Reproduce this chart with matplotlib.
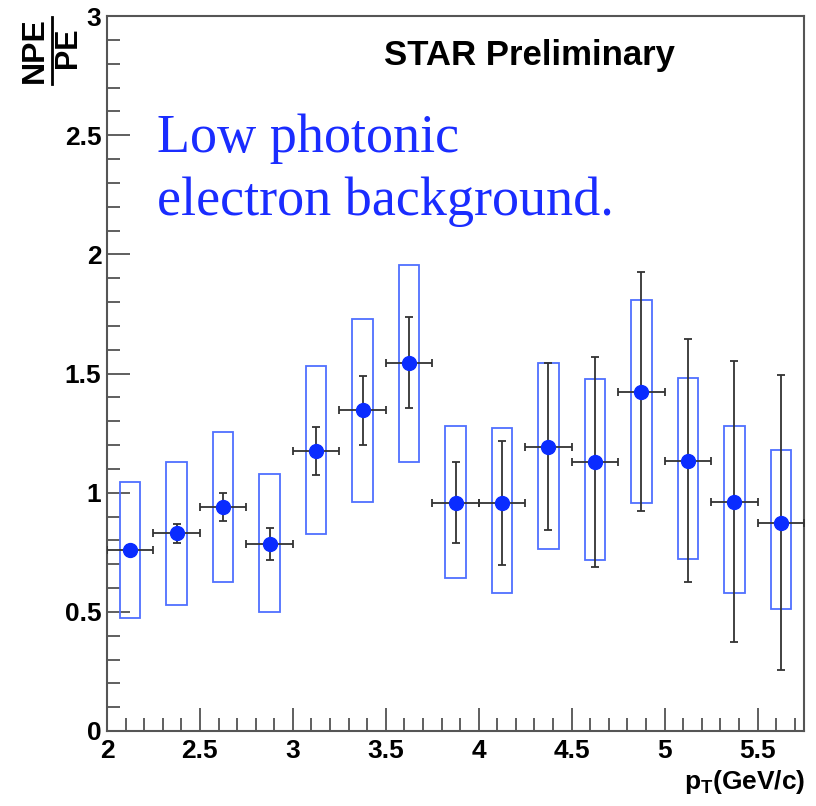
import matplotlib
matplotlib.use("Agg")
import matplotlib.pyplot as plt
from matplotlib.patches import Rectangle
from matplotlib.ticker import MultipleLocator

plt.rcParams['mathtext.fontset'] = 'custom'
plt.rcParams['mathtext.rm'] = 'Liberation Sans:bold'
plt.rcParams['mathtext.bf'] = 'Liberation Sans:bold'
plt.rcParams['mathtext.default'] = 'rm'

# ---- data ----
pt = [2.125, 2.375, 2.625, 2.875, 3.125, 3.375, 3.625, 3.875,
      4.125, 4.375, 4.625, 4.875, 5.125, 5.375, 5.625]
ratio = [0.76, 0.83, 0.94, 0.786, 1.176, 1.345, 1.546, 0.958,
         0.958, 1.193, 1.13, 1.424, 1.134, 0.962, 0.874]
stat_err = [0.02, 0.04, 0.06, 0.067, 0.10, 0.143, 0.19, 0.17,
            0.26, 0.35, 0.44, 0.50, 0.51, 0.59, 0.62]
sys_low = [0.475, 0.53, 0.626, 0.50, 0.828, 0.962, 1.13, 0.64,
           0.58, 0.765, 0.718, 0.958, 0.723, 0.58, 0.513]
sys_high = [1.046, 1.13, 1.256, 1.08, 1.53, 1.727, 1.954, 1.28,
            1.273, 1.542, 1.475, 1.81, 1.483, 1.28, 1.18]
xtick_vals = [2, 2.5, 3, 3.5, 4, 4.5, 5, 5.5]
xtick_labels = ['2', '2.5', '3', '3.5', '4', '4.5', '5', '5.5']
ytick_vals = [0, 0.5, 1, 1.5, 2, 2.5, 3]
ytick_labels = ['0', '0.5', '1', '1.5', '2', '2.5', '3']
pt_halfwidth = 0.125
box_halfwidth = 0.055

W, H = 816, 806
fig = plt.figure(figsize=(W / 100, H / 100), dpi=100)
ax = fig.add_axes([107 / W, 1 - 731 / H, (804 - 107) / W, (731 - 16) / H])

# systematic boxes
for x, lo, hi in zip(pt, sys_low, sys_high):
    ax.add_patch(Rectangle((x - box_halfwidth, lo), 2 * box_halfwidth, hi - lo,
                           fill=False, edgecolor='#4f6fff', linewidth=1.3, zorder=2))

ax.errorbar(pt, ratio, xerr=pt_halfwidth, yerr=stat_err, fmt='none',
            ecolor='#333333', elinewidth=1.3, capsize=3, capthick=1.3, zorder=3)
ax.plot(pt, ratio, 'o', color='#0a2cff', markersize=10, zorder=4)

ax.set_xlim(2, 5.75)
ax.set_ylim(0, 3)
ax.xaxis.set_minor_locator(MultipleLocator(0.1))
ax.yaxis.set_minor_locator(MultipleLocator(0.1))
ax.set_xticks(xtick_vals)
ax.set_xticklabels(xtick_labels)
ax.set_yticks(ytick_vals)
ax.set_yticklabels(ytick_labels)
ax.tick_params(which='both', direction='in', color='#444444', width=1.2,
               top=False, right=False)
ax.tick_params(which='major', length=16.5, labelsize=19)
ax.tick_params(which='minor', length=9.3)
ax.tick_params(axis='x', which='major', pad=6)
ax.tick_params(axis='y', which='major', pad=4)
for lab in ax.get_xticklabels() + ax.get_yticklabels():
    lab.set_fontfamily('Liberation Sans')
    lab.set_fontweight('bold')
for s in ax.spines.values():
    s.set_color('#555555')
    s.set_linewidth(1.5)

# texts
fig.text(529 / W, 1 - 56 / H, 'STAR Preliminary', ha='center', va='center',
         fontsize=25, fontweight='bold', family='Liberation Sans', color='black')
fig.text(157 / W, 1 - 152 / H, 'Low photonic', ha='left', va='baseline',
         fontsize=39, family='Liberation Serif', color='#1a2cff')
fig.text(157 / W, 1 - 215 / H, 'electron background.', ha='left', va='baseline',
         fontsize=39, family='Liberation Serif', color='#1a2cff')

# y label as fraction
fig.text(35 / W, 1 - 50 / H, 'NPE', rotation=90, ha='center', va='center',
         fontsize=23, fontweight='bold', family='Liberation Sans')
fig.text(68 / W, 1 - 48 / H, 'PE', rotation=90, ha='center', va='center',
         fontsize=22, fontweight='bold', family='Liberation Sans')
fig.add_artist(plt.Line2D([52 / W, 52 / W], [1 - 17 / H, 1 - 84 / H],
                          color='black', linewidth=2, transform=fig.transFigure))

# x label
fig.text(805 / W, 1 - 782 / H, r'p$_{\rm T}$(GeV/c)', ha='right', va='center',
         fontsize=19, fontweight='bold', family='Liberation Sans')

fig.savefig('out.png', dpi=100)
